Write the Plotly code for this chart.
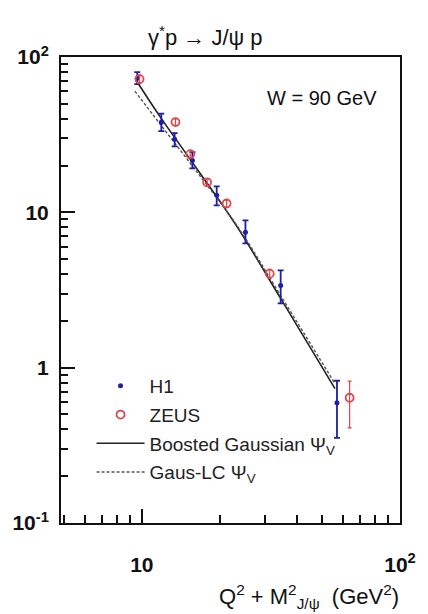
import plotly.graph_objects as go

# ---- data ----
h1_x = [9.6, 11.9, 13.4, 15.7, 19.5, 25.2, 34.5, 57.0]
h1_y = [73.0, 38.0, 29.6, 21.6, 12.9, 7.43, 3.38, 0.594]
h1_up = [79.8, 43.2, 32.4, 24.4, 14.7, 8.88, 4.23, 0.824]
h1_lo = [66.8, 33.3, 26.6, 19.2, 11.1, 6.31, 2.59, 0.353]

zeus_x = [9.8, 13.5, 15.4, 17.9, 21.3, 31.3, 63.8]
zeus_y = [72.0, 38.1, 23.7, 15.6, 11.4, 4.03, 0.64]
zeus_up = [76.5, 40.0, 25.0, 16.4, 12.0, 4.3, 0.818]
zeus_lo = [67.8, 36.3, 22.5, 14.8, 10.8, 3.78, 0.41]

bg_x = [9.49, 11.8, 16.6, 23.2, 34.5, 56.0]
bg_y = [71.1, 41.0, 18.4, 8.24, 2.79, 0.733]

lc_x = [9.4, 11.7, 16.6, 23.2, 34.5, 56.0]
lc_y = [60.3, 37.5, 17.6, 8.37, 2.91, 0.789]

y_tickvals = [0.1, 1, 10, 100]
y_ticktext = ["10<sup>-1</sup>", "1", "10", "10<sup>2</sup>"]
x_tickvals = [10, 100]
x_ticktext = ["10", "10<sup>2</sup>"]
x_minor = [5, 6, 7, 8, 9, 20, 30, 40, 50, 60, 70, 80, 90]
y_minor = [m * d for d in (0.1, 1, 10) for m in range(2, 10)]

FONT = "Liberation Sans, Arial, sans-serif"
H1C = "#1f1fa6"
ZC = "#e0474a"

fig = go.Figure()
fig.add_trace(go.Scatter(
    x=bg_x, y=bg_y, mode="lines", name="Boosted Gaussian Ψ<sub>V</sub>",
    line=dict(color="#222222", width=1.6, shape="spline"), legendgroup="c", legendrank=3))
fig.add_trace(go.Scatter(
    x=lc_x, y=lc_y, mode="lines", name="Gaus-LC Ψ<sub>V</sub>",
    line=dict(color="#555555", width=1.4, dash="3px,2px", shape="spline"), legendgroup="d", legendrank=4))
fig.add_trace(go.Scatter(
    x=h1_x, y=h1_y, mode="markers", name="H1",
    marker=dict(color=H1C, size=5, symbol="circle"),
    error_y=dict(type="data", symmetric=False,
                 array=[u - v for u, v in zip(h1_up, h1_y)],
                 arrayminus=[v - l for v, l in zip(h1_y, h1_lo)],
                 color=H1C, thickness=1.8, width=3),
    legendgroup="a", legendrank=1))
fig.add_trace(go.Scatter(
    x=zeus_x, y=zeus_y, mode="markers", name="ZEUS",
    marker=dict(color=ZC, size=8, symbol="circle-open", line=dict(color=ZC, width=1.8)),
    error_y=dict(type="data", symmetric=False,
                 array=[u - v for u, v in zip(zeus_up, zeus_y)],
                 arrayminus=[v - l for v, l in zip(zeus_y, zeus_lo)],
                 color=ZC, thickness=1.2, width=2),
    legendgroup="b", legendrank=2))

axis_common = dict(type="log", showgrid=False, zeroline=False,
                   showline=True, linecolor="#111111", linewidth=2, mirror=True,
                   ticks="inside", tickcolor="#111111", tickwidth=1.5,
                   tickfont=dict(family=FONT, size=21, color="#111111", weight="bold"))

fig.update_xaxes(range=[0.687, 2.0], tickmode="array", tickvals=x_tickvals, ticktext=x_ticktext,
                 ticklen=14, ticklabelstandoff=22,
                 minor=dict(tickmode="array", tickvals=x_minor, ticks="inside", ticklen=8,
                            tickcolor="#111111", tickwidth=1.5),
                 **axis_common)
fig.update_yaxes(range=[-1, 2.0], tickmode="array", tickvals=y_tickvals, ticktext=y_ticktext,
                 ticklen=14, ticklabelstandoff=6,
                 minor=dict(tickmode="array", tickvals=y_minor, ticks="inside", ticklen=7,
                            tickcolor="#111111", tickwidth=1.5),
                 **axis_common)

fig.add_annotation(text="γ<sup>*</sup>p → J/ψ p", xref="paper", yref="paper",
                   x=(208 - 61) / 344, y=1 + (57 - 36) / 466, xanchor="center", yanchor="middle",
                   showarrow=False, font=dict(family=FONT, size=22, color="#111111"))
fig.add_annotation(text="W = 90 GeV", xref="paper", yref="paper",
                   x=(384 - 61) / 344, y=1 - (98 - 57) / 466, xanchor="right", yanchor="middle",
                   showarrow=False, font=dict(family=FONT, size=20, color="#111111"))
fig.add_annotation(text="Q<sup>2</sup> + M<sup>2</sup><sub>J/ψ</sub>  (GeV<sup>2</sup>)",
                   xref="paper", yref="paper",
                   x=(406 - 61) / 344, y=1 - (596 - 57) / 466, xanchor="right", yanchor="middle",
                   showarrow=False, font=dict(family=FONT, size=22, color="#111111"))

fig.update_layout(
    width=428, height=614,
    margin=dict(l=61, r=23, t=57, b=91),
    paper_bgcolor="white", plot_bgcolor="white",
    font=dict(family=FONT, color="#111111"),
    showlegend=True,
    legend=dict(x=(92 - 61) / 344, y=1 - (367 - 57) / 466, xanchor="left", yanchor="top",
                bgcolor="rgba(255,255,255,0)", font=dict(family=FONT, size=19, color="#222222"),
                itemwidth=48, tracegroupgap=1, traceorder="grouped"),
)

fig.write_html("out.html")
